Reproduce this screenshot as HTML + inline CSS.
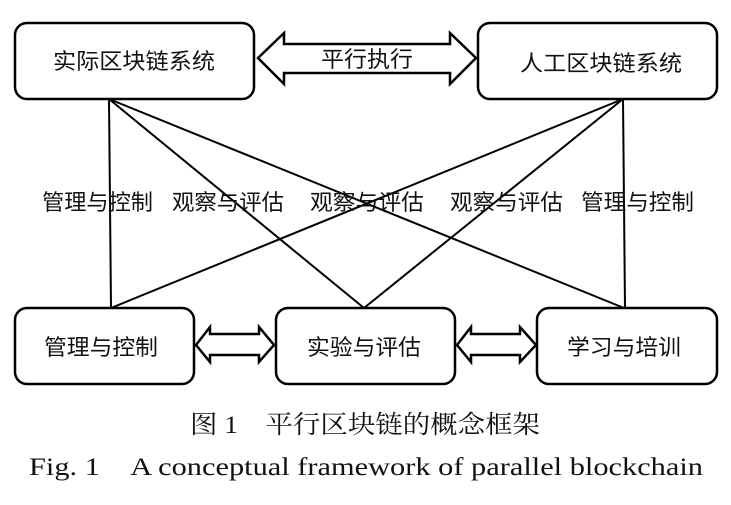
<!DOCTYPE html>
<html><head><meta charset="utf-8"><style>
html,body{margin:0;padding:0;background:#fff;}
svg{display:block;}
.c{font-family:"Liberation Sans","Noto Sans CJK SC",sans-serif;font-size:22px;fill:#111;}
.s{font-family:"Liberation Serif","Noto Serif CJK SC",serif;font-size:25px;fill:#111;}
</style></head><body>
<svg width="731" height="505" viewBox="0 0 731 505" xmlns="http://www.w3.org/2000/svg">
<g fill="#fff" stroke="#000" stroke-width="2.5">
<rect x="15" y="23" width="239" height="76" rx="12"/>
<rect x="478" y="23" width="239" height="76" rx="12"/>
<rect x="15" y="308" width="179" height="76" rx="12"/>
<rect x="276" y="308" width="179" height="76" rx="12"/>
<rect x="537" y="308" width="180" height="76" rx="12"/>
</g>
<g stroke="#000" stroke-width="2" fill="none">
<line x1="109" y1="99" x2="111" y2="308"/>
<line x1="109" y1="99" x2="364" y2="308"/>
<line x1="109" y1="99" x2="624" y2="308"/>
<line x1="623" y1="99" x2="111" y2="308"/>
<line x1="623" y1="99" x2="364" y2="308"/>
<line x1="623" y1="99" x2="625" y2="308"/>
</g>
<g fill="#fff" stroke="#000" stroke-width="2.5" stroke-linejoin="miter">
<polygon points="258,58 284,33 284,44 450,44 450,33 476,58 450,84 450,73 284,73 284,84"/>
<polygon points="196,345 210,327 210,334 259,334 259,327 274,345 259,362 259,355 210,355 210,362"/>
<polygon points="457,345 471,327 471,334 520,334 520,327 536,345 520,362 520,355 471,355 471,362"/>
</g>
<text class="c" x="134" y="69" text-anchor="middle" textLength="162" lengthAdjust="spacingAndGlyphs">实际区块链系统</text>
<text class="c" x="601" y="71" text-anchor="middle" textLength="162" lengthAdjust="spacingAndGlyphs">人工区块链系统</text>
<text class="c" x="367" y="67" text-anchor="middle" textLength="92" lengthAdjust="spacingAndGlyphs">平行执行</text>
<text class="c" x="101" y="355" text-anchor="middle" textLength="114" lengthAdjust="spacingAndGlyphs">管理与控制</text>
<text class="c" x="364" y="355" text-anchor="middle" textLength="114" lengthAdjust="spacingAndGlyphs">实验与评估</text>
<text class="c" x="624" y="355" text-anchor="middle" textLength="114" lengthAdjust="spacingAndGlyphs">学习与培训</text>
<g class="c">
<text x="42" y="210" textLength="111" lengthAdjust="spacingAndGlyphs">管理与控制</text>
<text x="172" y="210" textLength="112" lengthAdjust="spacingAndGlyphs">观察与评估</text>
<text x="310" y="210" textLength="114" lengthAdjust="spacingAndGlyphs">观察与评估</text>
<text x="450" y="210" textLength="113" lengthAdjust="spacingAndGlyphs">观察与评估</text>
<text x="581" y="210" textLength="113" lengthAdjust="spacingAndGlyphs">管理与控制</text>
</g>
<text class="s" x="190" y="433" textLength="350" lengthAdjust="spacingAndGlyphs">图 1　平行区块链的概念框架</text>
<text class="s" x="29" y="475" textLength="674" lengthAdjust="spacingAndGlyphs">Fig. 1　A conceptual framework of parallel blockchain</text>
</svg>
</body></html>
